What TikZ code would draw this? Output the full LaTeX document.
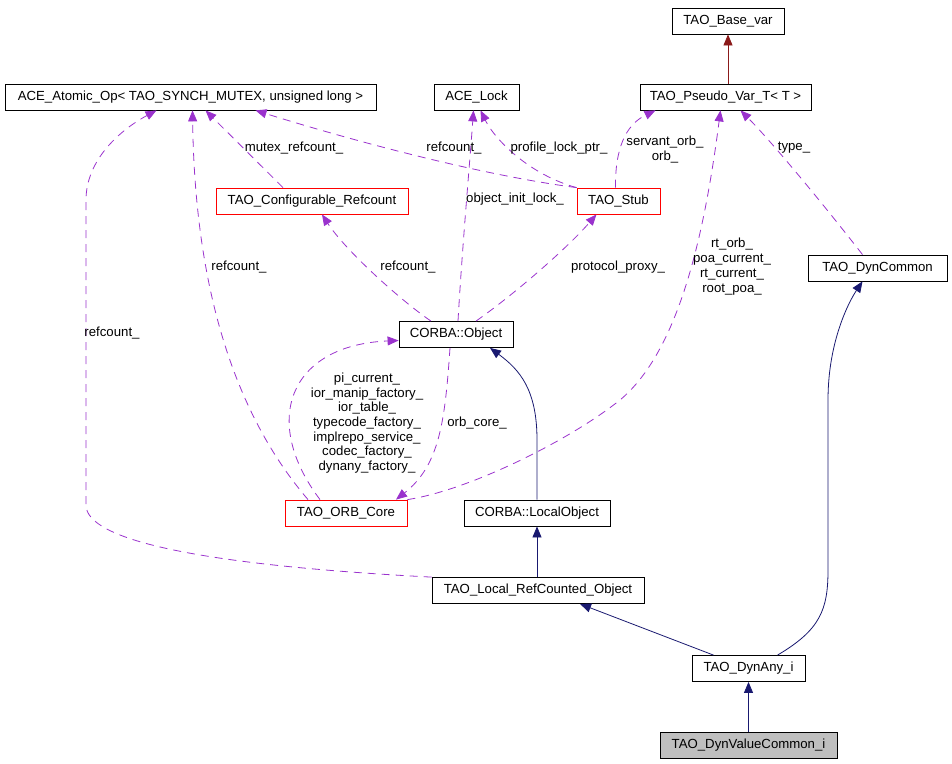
\documentclass[tikz,border=0pt]{standalone}
\usepackage{fontspec}
\setmainfont{Liberation Sans}
\usetikzlibrary{arrows.meta, calc}
\definecolor{inhblue}{RGB}{25,25,112}
\definecolor{usepurple}{RGB}{154,50,205}
\definecolor{tplred}{RGB}{139,26,26}
\definecolor{curgray}{RGB}{191,191,191}

\begin{document}
\begin{tikzpicture}[x=1pt, y=-1pt,
  cls/.style={draw=black, fill=white, minimum height=26pt, inner sep=0pt, line width=0.8pt, font=\fontsize{13.2}{15}\selectfont},
  trunc/.style={cls, draw=red},
  inh/.style={draw=inhblue, line width=0.8pt, -{Triangle[length=11pt,width=9pt]}},
  tpl/.style={draw=tplred, line width=0.8pt, -{Triangle[length=11pt,width=9pt]}},
  usedby/.style={draw=usepurple, line width=0.8pt, dash pattern=on 8pt off 6pt, -{Triangle[length=11pt,width=9pt]}},
  lbl/.style={inner sep=0pt, align=center, font=\fontsize{13.2}{15}\selectfont}
]
  \useasboundingbox (0,0) rectangle (952,763);

  % classes
  \node[cls, minimum width=112pt] (basevar) at (728,21) {TAO\_Base\_var};
  \node[cls, minimum width=371pt] (atomic) at (190.5,97) {ACE\_Atomic\_Op< TAO\_SYNCH\_MUTEX, unsigned long >};
  \node[cls, minimum width=85pt] (acelock) at (476.5,97) {ACE\_Lock};
  \node[cls, minimum width=171pt] (pseudovar) at (725.5,97) {TAO\_Pseudo\_Var\_T< T >};
  \node[trunc, minimum width=192pt] (confref) at (312,201) {TAO\_Configurable\_Refcount};
  \node[trunc, minimum width=83pt] (stub) at (618.5,201) {TAO\_Stub};
  \node[cls, minimum width=139pt] (dyncommon) at (877.5,268) {TAO\_DynCommon};
  \node[cls, minimum width=114pt] (object) at (456,334.5) {CORBA::Object};
  \node[trunc, minimum width=122pt] (orbcore) at (346,513) {TAO\_ORB\_Core};
  \node[cls, minimum width=146pt] (localobj) at (537,513) {CORBA::LocalObject};
  \node[cls, minimum width=212pt] (localref) at (538,590.5) {TAO\_Local\_RefCounted\_Object};
  \node[cls, minimum width=113pt] (dynany) at (748.5,668.5) {TAO\_DynAny\_i};
  \node[cls, fill=curgray, minimum width=177pt] (dynvalue) at (748.5,745.5) {TAO\_DynValueCommon\_i};

  % inheritance
  \draw[inh] (dynvalue) -- (dynany);
  \draw[inh] (localobj.south |- localref.north) -- (localobj.south);
  \draw[tpl] (basevar.south |- pseudovar.north) -- (basevar.south);
  \draw[inh] ($(dynany.north)+(-35,0)$) -- ($(localref.south)+(42,0)$);
  \draw[inh] ($(dynany.north)+(29,0)$) .. controls (820,630) and (828,610) .. (828,570)
    -- (828,400) .. controls (828,340) and (850,300) .. ($(dyncommon.south)+(-15,0)$);
  \draw[inh] (localobj.north) -- (537,440) .. controls (537,390) and (520,370) .. ($(object.south)+(34,0)$);

  % usage
  \draw[usedby] (localref.north west) .. controls (200,565) and (86,540) .. (86,505)
    -- (86,200) .. controls (86,160) and (120,130) .. ($(atomic.south)+(-34,0)$);
  \draw[usedby] ($(orbcore.north)+(-38,0)$) .. controls (240,420) and (195,300) .. ($(atomic.south)+(2,0)$);
  \draw[usedby] ($(confref.north)+(-29,0)$) -- ($(atomic.south)+(15,0)$);
  \draw[usedby] (stub.north west) .. controls (480,175) and (350,140) .. ($(atomic.south)+(65,0)$);
  \draw[usedby] (stub.north west) .. controls (530,175) and (495,140) .. ($(acelock.south)+(4,0)$);
  \draw[usedby] ($(object.north)+(2,0)$) .. controls (462,250) and (470,160) .. ($(acelock.south)+(-3,0)$);
  \draw[usedby] ($(stub.north)+(-3,0)$) .. controls (615,150) and (625,125) .. ($(pseudovar.south)+(-70,0)$);
  \draw[usedby] ($(dyncommon.north)+(-15,0)$) .. controls (820,200) and (770,140) .. ($(pseudovar.south)+(15,0)$);
  \draw[usedby] (orbcore.north east) .. controls (470,490) and (570,440) .. (620,400)
    .. controls (680,350) and (705,230) .. ($(pseudovar.south)+(-5,0)$);
  \draw[usedby] ($(object.north)+(-25,0)$) .. controls (400,300) and (345,250) .. ($(confref.south)+(10,0)$);
  \draw[usedby] ($(object.north)+(20,0)$) .. controls (520,290) and (570,245) .. ($(stub.south)+(-22,0)$);
  \draw[usedby] ($(orbcore.north)+(-26,0)$) .. controls (260,420) and (290,345) .. ($(object.west)+(0,6)$);
  \draw[usedby] ($(object.south)+(-6,0)$) .. controls (445,420) and (440,465) .. ($(orbcore.north)+(50,0)$);

  % labels
  \node[lbl] (lblrefleft) at (112,333) {refcount\_};
  \node[lbl] (lblreforb) at (239,267) {refcount\_};
  \node[lbl] (lblmutex) at (294,148) {mutex\_refcount\_};
  \node[lbl] (lblrefstub) at (454,148) {refcount\_};
  \node[lbl] (lblprofile) at (559,148) {profile\_lock\_ptr\_};
  \node[lbl] (lblservant) at (665,150) {servant\_orb\_\\orb\_};
  \node[lbl] (lbltype) at (794,148) {type\_};
  \node[lbl] (lblinitlock) at (515,199) {object\_init\_lock\_};
  \node[lbl] (lblrefobj) at (408,267) {refcount\_};
  \node[lbl] (lblproxy) at (618,267) {protocol\_proxy\_};
  \node[lbl] (lblrtorb) at (732,267) {rt\_orb\_\\poa\_current\_\\rt\_current\_\\root\_poa\_};
  \node[lbl, font=\fontsize{13.2}{14.7}\selectfont] (lblcurrent) at (367,423) {pi\_current\_\\ior\_manip\_factory\_\\ior\_table\_\\typecode\_factory\_\\implrepo\_service\_\\codec\_factory\_\\dynany\_factory\_};
  \node[lbl] (lblorbcore) at (477,423) {orb\_core\_};
\end{tikzpicture}
\end{document}
